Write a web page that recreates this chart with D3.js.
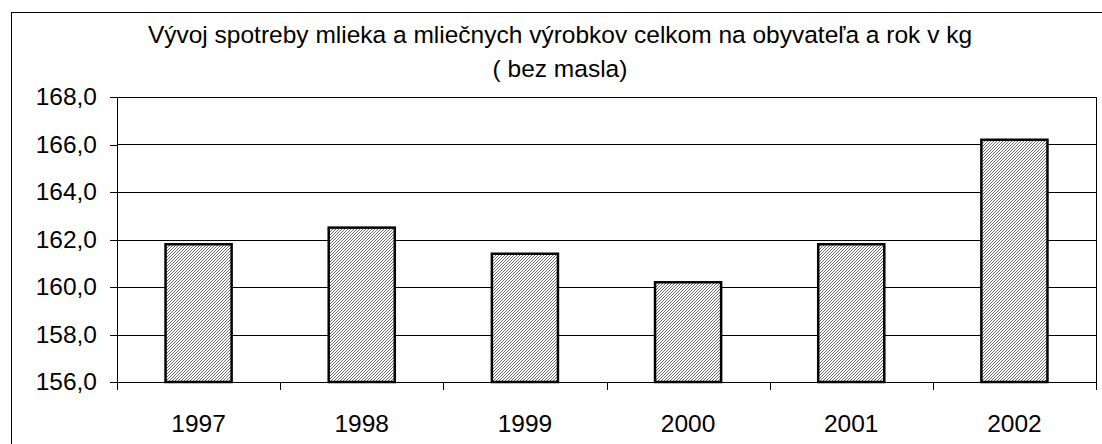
<!DOCTYPE html>
<html lang="sk">
<head>
  <meta charset="UTF-8">
  <title>Vývoj spotreby mlieka</title>
  <style>
    body { margin: 0; background: #fff; }
    .chart text { font-family: "Liberation Sans", Arial, sans-serif; fill: #000; font-size: 24.5px; }
    .axis path, .axis line { stroke: #000; shape-rendering: crispEdges; }
    .grid line { stroke: #000; shape-rendering: crispEdges; }
  </style>
</head>
<body>
  <svg class="chart"></svg>
  <script src="https://cdn.jsdelivr.net/npm/d3@7"></script>
  <script>
    var years = ["1997", "1998", "1999", "2000", "2001", "2002"];
    var values = [161.8, 162.5, 161.4, 160.2, 161.8, 166.2];
    var yTicks = [156, 158, 160, 162, 164, 166, 168];
    var titleLines = ["Vývoj spotreby mlieka a mliečnych výrobkov celkom na obyvateľa a rok v kg", "( bez masla)"];

    var W = 1102, H = 444;
    var margin = {top: 97, right: 6, bottom: 62, left: 117};
    var width = W - margin.left - margin.right,
        height = H - margin.top - margin.bottom;

    var svg = d3.select(".chart").attr("width", W).attr("height", H);

    // hatch pattern
    var defs = svg.append("defs");
    var pat = defs.append("pattern")
      .attr("id", "hatch")
      .attr("patternUnits", "userSpaceOnUse")
      .attr("width", 3).attr("height", 3);
    pat.append("rect").attr("width", 3).attr("height", 3).attr("fill", "#fff");
    pat.append("path")
      .attr("d", "M0,3 L3,0 M-1,1 L1,-1 M2,4 L4,2")
      .attr("stroke", "#5a5a5a").attr("stroke-width", 0.9);

    // outer frame
    svg.append("rect")
      .attr("x", 11.5).attr("y", 12.5)
      .attr("width", W).attr("height", H)
      .attr("fill", "none").attr("stroke", "#000");

    svg.selectAll(".title")
      .data(titleLines)
      .enter().append("text")
      .attr("class", "title")
      .attr("x", 560)
      .attr("y", function(d, i) { return 43 + i * 34; })
      .attr("text-anchor", "middle")
      .text(function(d) { return d; });

    var chart = svg.append("g")
      .attr("transform", "translate(" + margin.left + "," + margin.top + ")");

    var x = d3.scaleBand().domain(years).range([0, width]).paddingInner(0.595).paddingOuter(0.2975);
    var xb = d3.scaleBand().domain(years).range([0, width]);
    var y = d3.scaleLinear().domain([156, 168]).range([height, 0]);

    // plot frame
    chart.append("rect")
      .attr("x", 0.5).attr("y", 0.5)
      .attr("width", width).attr("height", height)
      .attr("fill", "none").attr("stroke", "#000")
      .style("shape-rendering", "crispEdges");

    chart.append("g").attr("class", "grid")
      .selectAll("line")
      .data(yTicks)
      .enter().append("line")
      .attr("x1", 0).attr("x2", width)
      .attr("y1", function(d) { return Math.round(y(d)) + 0.5; })
      .attr("y2", function(d) { return Math.round(y(d)) + 0.5; });

    var yAxis = chart.append("g").attr("class", "axis")
      .call(d3.axisLeft(y).tickValues(yTicks).tickSize(7).tickPadding(13)
        .tickFormat(function(d) { return d3.format(".1f")(d).replace(".", ","); }));
    yAxis.attr("font-size", null).attr("font-family", null);
    yAxis.select(".domain").remove();

    // x axis with ticks at category boundaries
    var xAxisG = chart.append("g").attr("class", "axis")
      .attr("transform", "translate(0," + height + ")");
    xAxisG.append("line").attr("x1", 0).attr("x2", width).attr("y1", 0.5).attr("y2", 0.5);
    xAxisG.selectAll(".tk")
      .data(years.concat(["end"]))
      .enter().append("line")
      .attr("x1", function(d, i) { return Math.round(i * xb.step()) + 0.5; })
      .attr("x2", function(d, i) { return Math.round(i * xb.step()) + 0.5; })
      .attr("y1", 0).attr("y2", 8);
    xAxisG.selectAll("text")
      .data(years)
      .enter().append("text")
      .attr("x", function(d) { return xb(d) + xb.bandwidth() / 2; })
      .attr("y", 50)
      .attr("text-anchor", "middle")
      .text(function(d) { return d; });

    chart.selectAll(".bar")
      .data(values)
      .enter().append("rect")
      .attr("class", "bar")
      .attr("x", function(d, i) { return x(years[i]); })
      .attr("y", function(d) { return y(d); })
      .attr("width", x.bandwidth())
      .attr("height", function(d) { return height - y(d); })
      .attr("fill", "url(#hatch)")
      .attr("stroke", "#000")
      .attr("stroke-width", 2.5);
  </script>
</body>
</html>
